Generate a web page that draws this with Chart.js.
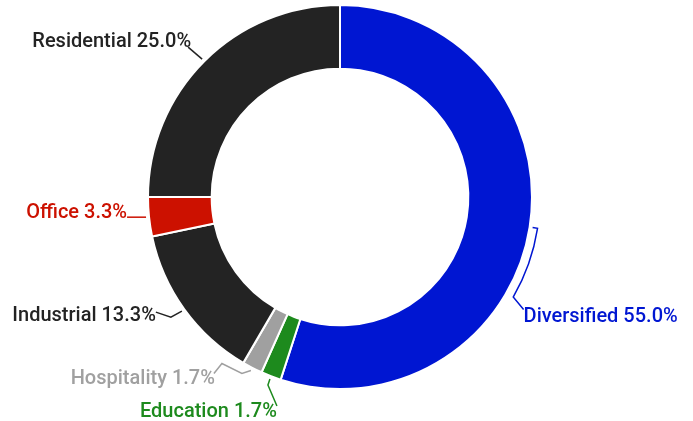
<!DOCTYPE html>
<html>
<head>
<meta charset="utf-8">
<script src="https://cdn.jsdelivr.net/npm/chart.js@4"></script>
<style>
    html, body { margin: 0; padding: 0; background: #fff; }
    #wrap { width: 693px; height: 421px; }
</style>
</head>
<body>
<div id="wrap"><canvas id="sectorChart" width="693" height="421"></canvas></div>
<script>
const sectors = ["Diversified", "Education", "Hospitality", "Industrial", "Office", "Residential"];
const shares = [55.0, 1.7, 1.7, 13.3, 3.3, 25.0];
const sliceColors = ["#0016d2", "#1d8a1d", "#a0a0a0", "#232323", "#cc1100", "#232323"];
const labelColors = ["#0016d2", "#1d8a1d", "#a0a0a0", "#232323", "#cc1100", "#232323"];

// leader line for each label: steps relative to the anchor (outer edge, mid angle)
// [dx, dy] = offset in px, {r, a} = polar (extra radius, degrees past mid angle)
const leaders = [
    { steps: [{ r: 8, a: 0 }, { r: 8, a: 21, arc: true }, [-9, 82]], text: [0, 12], align: "left" },
    { steps: [[-2, 6], [7, 27]], text: [0, 11], align: "right" },
    { steps: [[-9, 3], [-29, -7], [-37, 3]], text: [1, 11], align: "right" },
    { steps: [[-11, 6], [-26, 1]], text: [0, 9], align: "right" },
    { steps: [[-19, 0]], text: [0, 1], align: "right" },
    { steps: [[-14, -12]], text: [3, 0], align: "right" }
];

const leaderLabels = {
    id: "leaderLabels",
    afterDatasetsDraw(chart) {
        const ctx = chart.ctx;
        const meta = chart.getDatasetMeta(0);
        ctx.save();
        ctx.lineWidth = 1.5;
        ctx.font = "500 20px Roboto";
        ctx.textBaseline = "alphabetic";
        meta.data.forEach((arc, i) => {
            const mid = (arc.startAngle + arc.endAngle) / 2;
            const cx = arc.x, cy = arc.y, R = arc.outerRadius;
            const polar = (dr, da) => {
                const a = mid + da * Math.PI / 180;
                return { x: cx + (R + dr) * Math.cos(a), y: cy + (R + dr) * Math.sin(a) };
            };
            const anchor = polar(3, 0);
            const spec = leaders[i];
            ctx.strokeStyle = labelColors[i];
            ctx.fillStyle = labelColors[i];
            ctx.beginPath();
            ctx.moveTo(anchor.x, anchor.y);
            let last = anchor;
            spec.steps.forEach(s => {
                if (Array.isArray(s)) {
                    last = { x: anchor.x + s[0], y: anchor.y + s[1] };
                    ctx.lineTo(last.x, last.y);
                } else if (s.arc) {
                    ctx.arc(cx, cy, R + s.r, mid, mid + s.a * Math.PI / 180);
                    last = polar(s.r, s.a);
                } else {
                    last = polar(s.r, s.a);
                    ctx.lineTo(last.x, last.y);
                }
            });
            ctx.stroke();
            ctx.textAlign = spec.align;
            ctx.fillText(sectors[i] + " " + shares[i].toFixed(1) + "%", last.x + spec.text[0], last.y + spec.text[1]);
        });
        ctx.restore();
    }
};

new Chart(document.getElementById("sectorChart").getContext("2d"), {
    type: "doughnut",
    data: {
        labels: sectors,
        datasets: [{
            data: shares,
            backgroundColor: sliceColors,
            borderColor: "#ffffff",
            borderWidth: 2,
            hoverOffset: 0
        }]
    },
    options: {
        responsive: false,
        animation: false,
        events: [],
        radius: 192,
        cutout: 127,
        layout: { padding: { top: 6, bottom: 33, left: 149, right: 162 } },
        plugins: {
            legend: { display: false },
            tooltip: { enabled: false }
        }
    },
    plugins: [leaderLabels]
});
</script>
</body>
</html>
